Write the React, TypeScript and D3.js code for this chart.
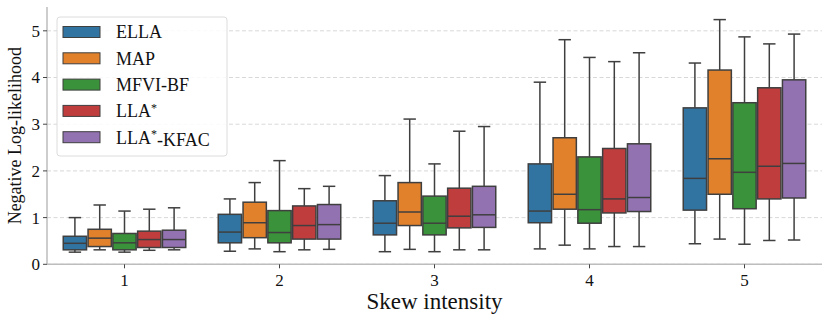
import React, { useEffect, useRef } from "react";
import * as d3 from "d3";

// skew intensity categories
const categories = ["1", "2", "3", "4", "5"];
const methods = ["ELLA", "MAP", "MFVI-BF", "LLA*", "LLA*-KFAC"];
const colors = ["#3274a1", "#e1812c", "#3a923a", "#c03d3e", "#9372b2"];
const yTicks = [0, 1, 2, 3, 4, 5];

// [whisker low, q1, median, q3, whisker high] per method, per category
const ella = [
  [0.26, 0.31, 0.45, 0.6, 1.0],
  [0.28, 0.46, 0.69, 1.07, 1.4],
  [0.27, 0.63, 0.88, 1.36, 1.9],
  [0.33, 0.89, 1.14, 2.15, 3.9],
  [0.44, 1.16, 1.84, 3.35, 4.31],
];
const map = [
  [0.31, 0.38, 0.56, 0.75, 1.27],
  [0.33, 0.57, 0.89, 1.33, 1.75],
  [0.32, 0.83, 1.12, 1.75, 3.11],
  [0.41, 1.18, 1.5, 2.71, 4.81],
  [0.54, 1.5, 2.26, 4.16, 5.24],
];
const mfvi = [
  [0.26, 0.31, 0.46, 0.66, 1.14],
  [0.27, 0.46, 0.68, 1.15, 2.22],
  [0.27, 0.63, 0.88, 1.46, 2.15],
  [0.33, 0.88, 1.17, 2.3, 4.43],
  [0.43, 1.19, 1.97, 3.46, 4.87],
];
const lla = [
  [0.3, 0.36, 0.53, 0.71, 1.18],
  [0.31, 0.54, 0.83, 1.25, 1.62],
  [0.31, 0.78, 1.03, 1.63, 2.85],
  [0.38, 1.1, 1.4, 2.48, 4.34],
  [0.51, 1.4, 2.1, 3.78, 4.72],
];
const llaKfac = [
  [0.31, 0.36, 0.53, 0.73, 1.21],
  [0.32, 0.54, 0.85, 1.28, 1.67],
  [0.31, 0.79, 1.06, 1.67, 2.95],
  [0.38, 1.13, 1.43, 2.58, 4.53],
  [0.52, 1.42, 2.16, 3.95, 4.93],
];
const series = [ella, map, mfvi, lla, llaKfac];

const App = () => {
  const ref = useRef<SVGSVGElement>(null);

  useEffect(() => {
    const svg = d3.select(ref.current);
    svg.selectAll("*").remove();
    const font = "'Liberation Serif', 'DejaVu Serif', serif";
    const edge = "#3f3f3f";

    const left = 47, right = 822, top = 7, bottom = 264.3;
    const x = d3.scaleLinear().domain([-0.5, 4.5]).range([left, right]);
    const y = d3.scaleLinear().domain([0, 5.51]).range([bottom, top]);

    // grid
    svg.append("g")
      .selectAll("line")
      .data(yTicks)
      .join("line")
      .attr("x1", left).attr("x2", right)
      .attr("y1", (d) => y(d)).attr("y2", (d) => y(d))
      .attr("stroke", "#d4d4d4")
      .attr("stroke-width", 0.9)
      .attr("stroke-dasharray", "4,2.5");

    // spines
    svg.append("line")
      .attr("x1", left).attr("x2", left).attr("y1", top).attr("y2", bottom)
      .attr("stroke", "#bdbdbd").attr("stroke-width", 1.5);
    svg.append("line")
      .attr("x1", left).attr("x2", right).attr("y1", bottom).attr("y2", bottom)
      .attr("stroke", "#bdbdbd").attr("stroke-width", 1.5);

    // y axis ticks
    const yAxis = svg.append("g");
    yTicks.forEach((t) => {
      yAxis.append("line")
        .attr("x1", left - 4).attr("x2", left).attr("y1", y(t)).attr("y2", y(t))
        .attr("stroke", "#444").attr("stroke-width", 1);
      yAxis.append("text")
        .attr("x", left - 7).attr("y", y(t))
        .attr("dy", "0.35em")
        .attr("text-anchor", "end")
        .attr("font-family", font).attr("font-size", 17).attr("fill", "#111")
        .text(t);
    });

    // x axis ticks
    const xAxis = svg.append("g");
    categories.forEach((c, i) => {
      xAxis.append("line")
        .attr("x1", x(i)).attr("x2", x(i)).attr("y1", bottom).attr("y2", bottom + 4)
        .attr("stroke", "#444").attr("stroke-width", 1);
      xAxis.append("text")
        .attr("x", x(i)).attr("y", bottom + 21.5)
        .attr("text-anchor", "middle")
        .attr("font-family", font).attr("font-size", 17).attr("fill", "#111")
        .text(c);
    });

    // axis labels
    svg.append("text")
      .attr("x", (left + right) / 2).attr("y", 309)
      .attr("text-anchor", "middle")
      .attr("font-family", font).attr("font-size", 23).attr("fill", "#111")
      .text("Skew intensity");
    svg.append("text")
      .attr("transform", `translate(21,${(top + bottom) / 2}) rotate(-90)`)
      .attr("text-anchor", "middle")
      .attr("font-family", font).attr("font-size", 18).attr("fill", "#111")
      .text("Negative Log-likelihood");

    // boxes
    const bw = 0.8 / methods.length;
    const boxW = x(bw) - x(0);
    const plot = svg.append("g");
    series.forEach((s, j) => {
      s.forEach((st, i) => {
        const [lo, q1, med, q3, hi] = st;
        const cx = x(i - 0.4 + bw * (j + 0.5));
        const g = plot.append("g");
        const capW = boxW * 0.5;
        g.append("line")
          .attr("x1", cx).attr("x2", cx).attr("y1", y(q3)).attr("y2", y(hi))
          .attr("stroke", edge).attr("stroke-width", 1.5);
        g.append("line")
          .attr("x1", cx).attr("x2", cx).attr("y1", y(q1)).attr("y2", y(lo))
          .attr("stroke", edge).attr("stroke-width", 1.5);
        [lo, hi].forEach((v) => {
          g.append("line")
            .attr("x1", cx - capW / 2).attr("x2", cx + capW / 2)
            .attr("y1", y(v)).attr("y2", y(v))
            .attr("stroke", edge).attr("stroke-width", 1.5);
        });
        g.append("rect")
          .attr("x", cx - boxW / 2 + 0.75).attr("width", boxW - 1.5)
          .attr("y", y(q3)).attr("height", y(q1) - y(q3))
          .attr("fill", colors[j])
          .attr("stroke", edge).attr("stroke-width", 1.5);
        g.append("line")
          .attr("x1", cx - boxW / 2 + 0.75).attr("x2", cx + boxW / 2 - 0.75)
          .attr("y1", y(med)).attr("y2", y(med))
          .attr("stroke", edge).attr("stroke-width", 1.5);
      });
    });

    // legend
    const lg = svg.append("g");
    lg.append("rect")
      .attr("x", 57).attr("y", 17).attr("width", 170).attr("height", 139)
      .attr("rx", 3)
      .attr("fill", "white").attr("fill-opacity", 0.85)
      .attr("stroke", "#dcdcdc").attr("stroke-width", 1);
    methods.forEach((m, j) => {
      const cy = 32 + j * 26.3;
      lg.append("rect")
        .attr("x", 63).attr("y", cy - 5.5).attr("width", 37).attr("height", 11)
        .attr("fill", colors[j]).attr("stroke", edge).attr("stroke-width", 1);
      const t = lg.append("text")
        .attr("x", 116).attr("y", cy).attr("dy", "0.35em")
        .attr("font-family", font).attr("font-size", 18).attr("fill", "#111");
      if (m.includes("*")) {
        const [a, b] = m.split("*");
        t.append("tspan").text(a);
        t.append("tspan").attr("dy", "-0.45em").attr("font-size", 12).text("*");
        t.append("tspan").attr("dy", "0.45em").text(b);
      } else {
        t.text(m);
      }
    });
  }, []);

  return (
    <svg
      ref={ref}
      width={830}
      height={324}
      style={{ position: "absolute", left: 0, top: 0, background: "white" }}
    />
  );
};

export default App;
